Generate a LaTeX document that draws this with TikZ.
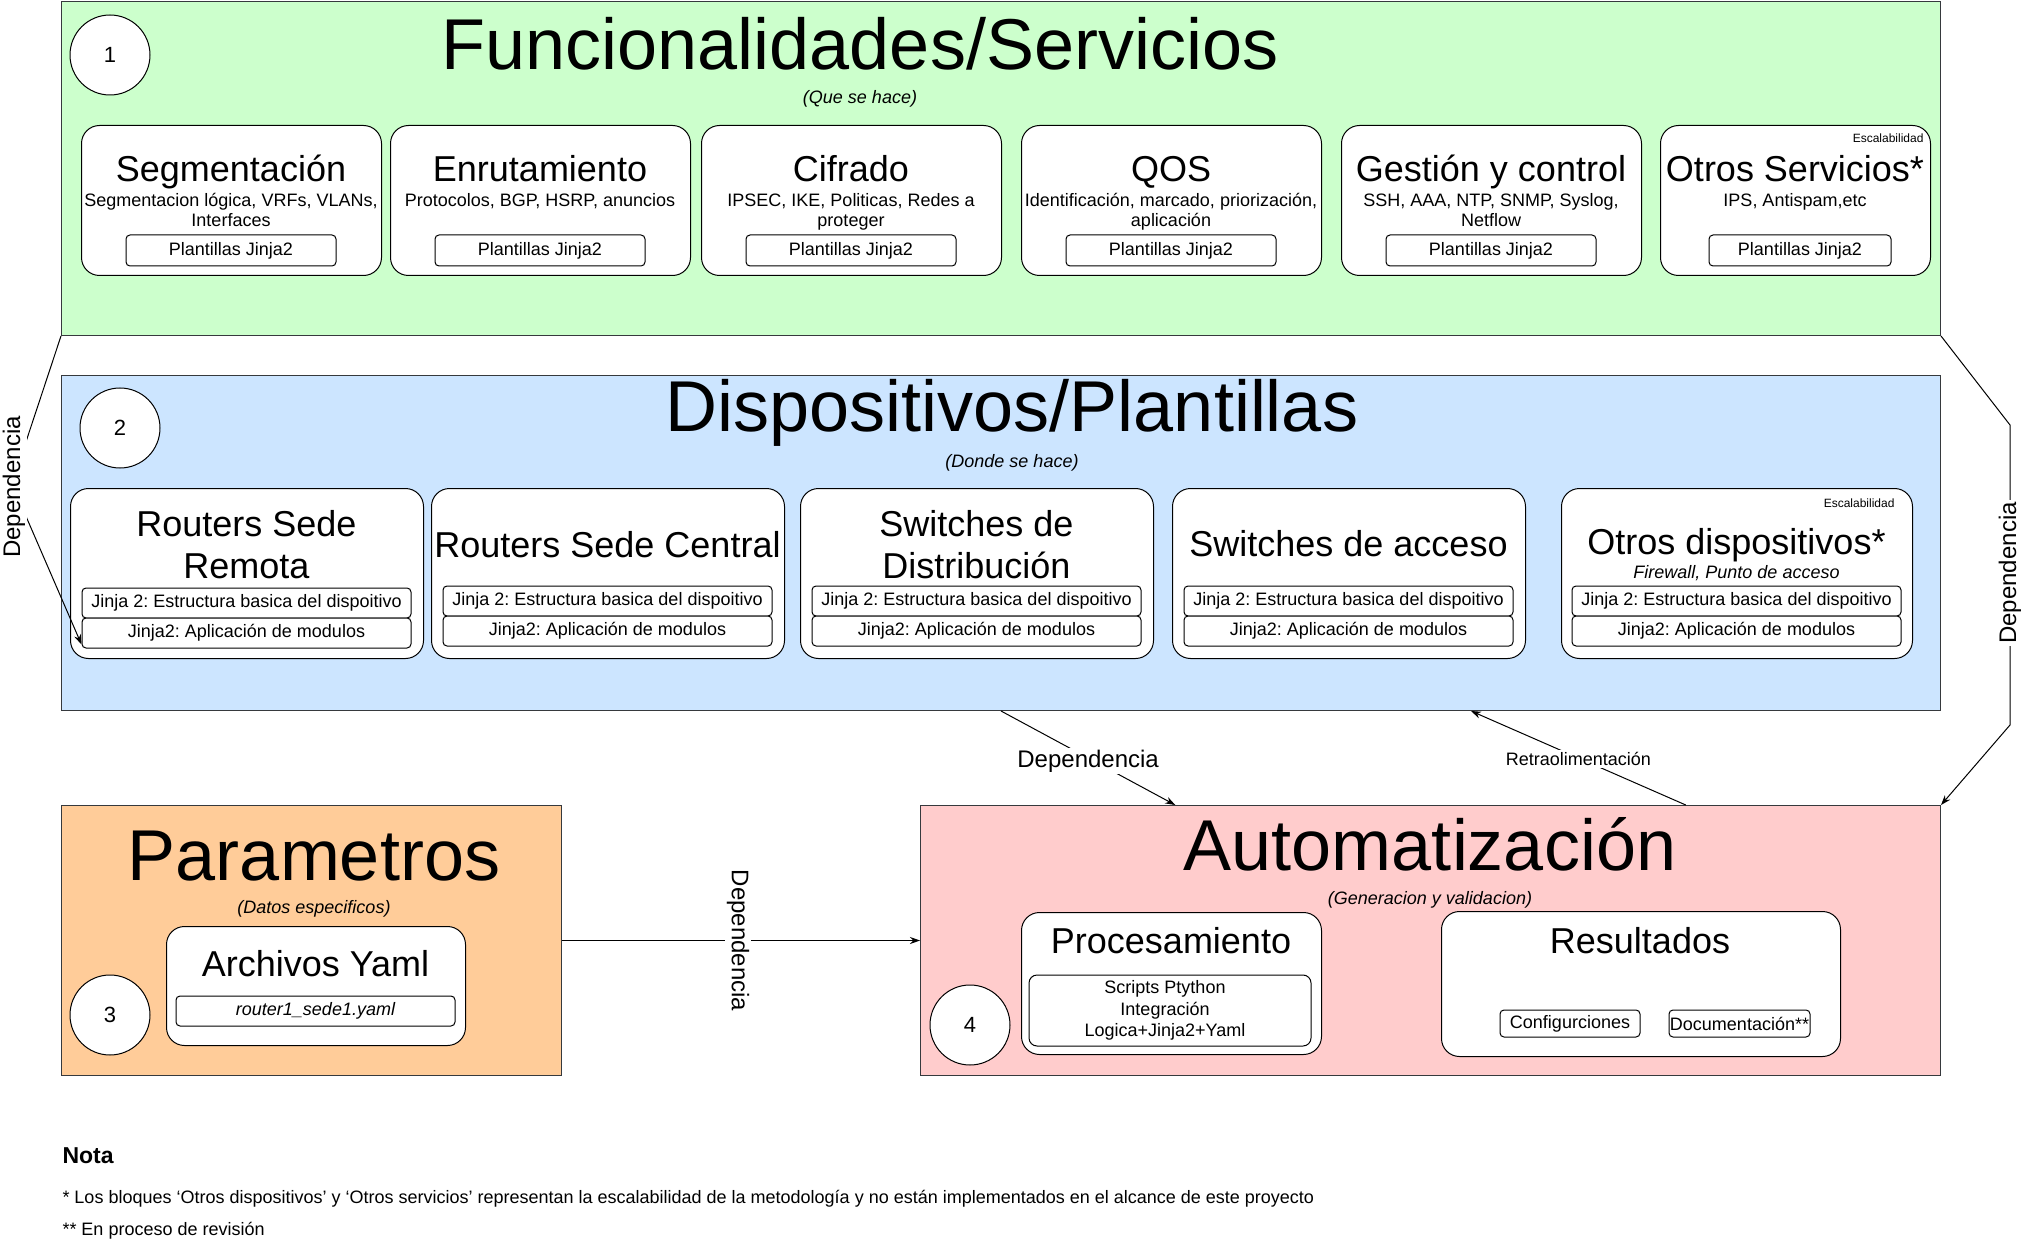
\documentclass[tikz,border=0pt]{standalone}
\usepackage{fontspec}
\setmainfont{Liberation Sans}
\usetikzlibrary{arrows.meta,calc}
\definecolor{cgreen}{HTML}{CCFFCC}
\definecolor{cblue}{HTML}{CCE5FF}
\definecolor{corange}{HTML}{FFCC99}
\definecolor{cpink}{HTML}{FFCCCC}
\definecolor{cbord}{HTML}{36393D}
\newcommand\fpx[1]{\fontsize{#1}{#1}\selectfont}
\frenchspacing
\begin{document}
\begin{tikzpicture}[x=1pt,y=-1pt,line width=1pt,
  panel/.style={draw=cbord, line width=1pt, inner sep=0pt, anchor=north west},
  sbox/.style={draw=black, fill=white, rounded corners=18pt, line width=1pt, inner sep=0pt, anchor=north west},
  ibox/.style={draw=black, fill=white, rounded corners=4pt, line width=1pt, inner sep=0pt, font=\fpx{18}},
  txt/.style={inner sep=0pt, anchor=base},
  num/.style={circle, draw=black, fill=white, line width=1pt, minimum size=80pt, inner sep=0pt, font=\fpx{22}},
  conn/.style={draw=black, line width=1pt},
  arr/.style={conn, -{Stealth[length=10pt,width=7pt]}},
  lbl/.style={fill=white, inner sep=2pt, font=\fpx{24}}]
\fill[white] (0,0) rectangle (2027,1249);
\useasboundingbox (0,0) rectangle (2027,1249);

% ---------- panels ----------
\node[panel, fill=cgreen, minimum width=1879pt, minimum height=334pt] (green) at (61,1) {};
\node[panel, fill=cblue, minimum width=1879pt, minimum height=335pt] (blue) at (61,375) {};
\node[panel, fill=corange, minimum width=500pt, minimum height=270pt] (orange) at (61,805) {};
\node[panel, fill=cpink, minimum width=1020pt, minimum height=270pt] (pink) at (920,805) {};

% ---------- panel 1 ----------
\node[num] (n1) at (110,55) {1};
\node[txt, font=\fpx{72}] (t1) at (860,70) {Funcionalidades/Servicios};
\node[txt, font=\itshape\fpx{18}] (t1s) at (860,104) {(Que se hace)};

\node[sbox, minimum width=300pt, minimum height=150pt] (s1) at (81,125) {};
\node[txt, font=\fpx{36}] (s1t) at (231,182) {Segmentación};
\node[txt, font=\fpx{18}] (s1a) at (231,207) {Segmentacion lógica, VRFs, VLANs,};
\node[txt, font=\fpx{18}] (s1b) at (231,227) {Interfaces};
\node[ibox, minimum width=210pt, minimum height=31pt] (s1p) at (231,250.5) {Plantillas Jinja2};

\node[sbox, minimum width=300pt, minimum height=150pt] (s2) at (390,125) {};
\node[txt, font=\fpx{36}] (s2t) at (540,182) {Enrutamiento};
\node[txt, font=\fpx{18}] (s2a) at (540,207) {Protocolos, BGP, HSRP, anuncios};
\node[ibox, minimum width=210pt, minimum height=31pt] (s2p) at (540,250.5) {Plantillas Jinja2};

\node[sbox, minimum width=300pt, minimum height=150pt] (s3) at (701,125) {};
\node[txt, font=\fpx{36}] (s3t) at (851,182) {Cifrado};
\node[txt, font=\fpx{18}] (s3a) at (851,207) {IPSEC, IKE, Politicas, Redes a};
\node[txt, font=\fpx{18}] (s3b) at (851,227) {proteger};
\node[ibox, minimum width=210pt, minimum height=31pt] (s3p) at (851,250.5) {Plantillas Jinja2};

\node[sbox, minimum width=300pt, minimum height=150pt] (s4) at (1021,125) {};
\node[txt, font=\fpx{36}] (s4t) at (1171,182) {QOS};
\node[txt, font=\fpx{18}] (s4a) at (1171,207) {Identificación, marcado, priorización,};
\node[txt, font=\fpx{18}] (s4b) at (1171,227) {aplicación};
\node[ibox, minimum width=210pt, minimum height=31pt] (s4p) at (1171,250.5) {Plantillas Jinja2};

\node[sbox, minimum width=300pt, minimum height=150pt] (s5) at (1341,125) {};
\node[txt, font=\fpx{36}] (s5t) at (1491,182) {Gestión y control};
\node[txt, font=\fpx{18}] (s5a) at (1491,207) {SSH, AAA, NTP, SNMP, Syslog,};
\node[txt, font=\fpx{18}] (s5b) at (1491,227) {Netflow};
\node[ibox, minimum width=210pt, minimum height=31pt] (s5p) at (1491,250.5) {Plantillas Jinja2};

\node[sbox, minimum width=270pt, minimum height=150pt] (s6) at (1660,125) {};
\node[txt, anchor=base east, font=\fpx{12}] (s6e) at (1924,143) {Escalabilidad};
\node[txt, font=\fpx{36}] (s6t) at (1795,182) {Otros Servicios*};
\node[txt, font=\fpx{18}] (s6a) at (1795,207) {IPS, Antispam,etc};
\node[ibox, minimum width=182pt, minimum height=31pt] (s6p) at (1800,250.5) {Plantillas Jinja2};

% ---------- panel 2 ----------
\node[num] (n2) at (120,428) {2};
\node[txt, font=\fpx{72}] (t2) at (1012,431) {Dispositivos/Plantillas};
\node[txt, font=\itshape\fpx{18}] (t2s) at (1012,467) {(Donde se hace)};

\node[sbox, minimum width=353pt, minimum height=170pt] (d1) at (70,488) {};
\node[txt, font=\fpx{36}] (d1t) at (246.5,536) {Routers Sede};
\node[txt, font=\fpx{36}] (d1u) at (246.5,578) {Remota};
\node[ibox, minimum width=329pt, minimum height=30pt] (d1a) at (246.5,603) {Jinja 2: Estructura basica del dispoitivo};
\node[ibox, minimum width=329pt, minimum height=30pt] (d1b) at (246.5,633) {Jinja2: Aplicación de modulos};

\node[sbox, minimum width=353pt, minimum height=170pt] (d2) at (431,488) {};
\node[txt, font=\fpx{36}] (d2t) at (607.5,557) {Routers Sede Central};
\node[ibox, minimum width=329pt, minimum height=30pt] (d2a) at (607.5,601) {Jinja 2: Estructura basica del dispoitivo};
\node[ibox, minimum width=329pt, minimum height=30pt] (d2b) at (607.5,631) {Jinja2: Aplicación de modulos};

\node[sbox, minimum width=353pt, minimum height=170pt] (d3) at (800,488) {};
\node[txt, font=\fpx{36}] (d3t) at (976.5,536) {Switches de};
\node[txt, font=\fpx{36}] (d3u) at (976.5,578) {Distribución};
\node[ibox, minimum width=329pt, minimum height=30pt] (d3a) at (976.5,601) {Jinja 2: Estructura basica del dispoitivo};
\node[ibox, minimum width=329pt, minimum height=30pt] (d3b) at (976.5,631) {Jinja2: Aplicación de modulos};

\node[sbox, minimum width=353pt, minimum height=170pt] (d4) at (1172,488) {};
\node[txt, font=\fpx{36}] (d4t) at (1348.5,556) {Switches de acceso};
\node[ibox, minimum width=329pt, minimum height=30pt] (d4a) at (1348.5,601) {Jinja 2: Estructura basica del dispoitivo};
\node[ibox, minimum width=329pt, minimum height=30pt] (d4b) at (1348.5,631) {Jinja2: Aplicación de modulos};

\node[sbox, minimum width=351pt, minimum height=170pt] (d5) at (1561,488) {};
\node[txt, anchor=base east, font=\fpx{12}] (d5e) at (1895,507) {Escalabilidad};
\node[txt, font=\fpx{36}] (d5t) at (1736.5,554) {Otros dispositivos*};
\node[txt, font=\itshape\fpx{18}] (d5s) at (1736.5,578) {Firewall, Punto de acceso};
\node[ibox, minimum width=329pt, minimum height=30pt] (d5a) at (1736.5,601) {Jinja 2: Estructura basica del dispoitivo};
\node[ibox, minimum width=329pt, minimum height=30pt] (d5b) at (1736.5,631) {Jinja2: Aplicación de modulos};

% ---------- panel 3 ----------
\node[txt, font=\fpx{72}] (t3) at (314,880) {Parametros};
\node[txt, font=\itshape\fpx{18}] (t3s) at (314,913) {(Datos especificos)};
\node[sbox, minimum width=299pt, minimum height=119pt] (y1) at (166,926) {};
\node[txt, font=\fpx{36}] (y1t) at (315.5,976) {Archivos Yaml};
\node[ibox, minimum width=279pt, minimum height=30pt, font=\itshape\fpx{18}] (y1a) at (315.5,1011) {router1\_sede1.yaml};
\node[num] (n3) at (110,1015) {3};

% ---------- panel 4 ----------
\node[txt, font=\fpx{72}] (t4) at (1430,870) {Automatización};
\node[txt, font=\itshape\fpx{18}] (t4s) at (1430,904) {(Generacion y validacion)};
\node[sbox, minimum width=300pt, minimum height=142pt] (p1) at (1021,912) {};
\node[txt, font=\fpx{36}] (p1t) at (1171,953) {Procesamiento};
\node[ibox, rounded corners=8pt, minimum width=282pt, minimum height=71pt] (p1a) at (1170,1010.5) {};
\node[txt, font=\fpx{18}] (p1l1) at (1165,993) {Scripts Ptython};
\node[txt, font=\fpx{18}] (p1l2) at (1165,1015) {Integración};
\node[txt, font=\fpx{18}] (p1l3) at (1165,1036) {Logica+Jinja2+Yaml};

\node[sbox, minimum width=399pt, minimum height=145pt] (r1) at (1441,911) {};
\node[txt, font=\fpx{36}] (r1t) at (1640,953) {Resultados};
\node[ibox, minimum width=140pt, minimum height=27pt] (r1a) at (1570,1023.5) {Configurciones};
\node[ibox, minimum width=141pt, minimum height=27pt] (r1b) at (1739.5,1023.5) {Documentación**};
\node[num] (n4) at (970,1025) {4};

% ---------- connectors ----------
\coordinate (lw) at (12,484);
\draw[arr] (green.south west) -- (lw) -- ($(d1b.south west)+(0,-4)$);
\node[lbl, rotate=90] (ldep) at (14,487) {Dependencia};

\coordinate (rw1) at (2010,425);
\coordinate (rw2) at (2010,725);
\draw[arr] (green.south east) -- (rw1) -- (rw2) -- (pink.north east);
\node[lbl, rotate=90] (rdep) at (2010,573) {Dependencia};

\coordinate (pinkq) at ($(pink.north west)!0.25!(pink.north east)$);
\draw[arr] (blue.south) -- (pinkq) node[lbl, midway, yshift=-3pt] (mdep) {Dependencia};

\coordinate (pinkr) at ($(pink.north west)!0.75!(pink.north east)$);
\coordinate (bluer) at ($(blue.south west)!0.75!(blue.south east)$);
\draw[arr] (pinkr) -- (bluer) node[lbl, midway, yshift=-1pt, font=\fpx{18}] (retro) {Retraolimentación};

\draw[arr] (orange.east) -- (pink.west) node[lbl, midway, xshift=-3pt, rotate=-90] (hdep) {Dependencia};

% ---------- notes ----------
\node[txt, anchor=base west, font=\bfseries\fpx{23}] (nota) at (62,1163) {Nota};
\node[txt, anchor=base west, font=\fpx{18}] (nota1) at (62,1203) {* Los bloques ‘Otros dispositivos’ y ‘Otros servicios’ representan la escalabilidad de la metodología y no están implementados en el alcance de este proyecto};
\node[txt, anchor=base west, font=\fpx{18}] (nota2) at (62,1235) {** En proceso de revisión};
\end{tikzpicture}
\end{document}
